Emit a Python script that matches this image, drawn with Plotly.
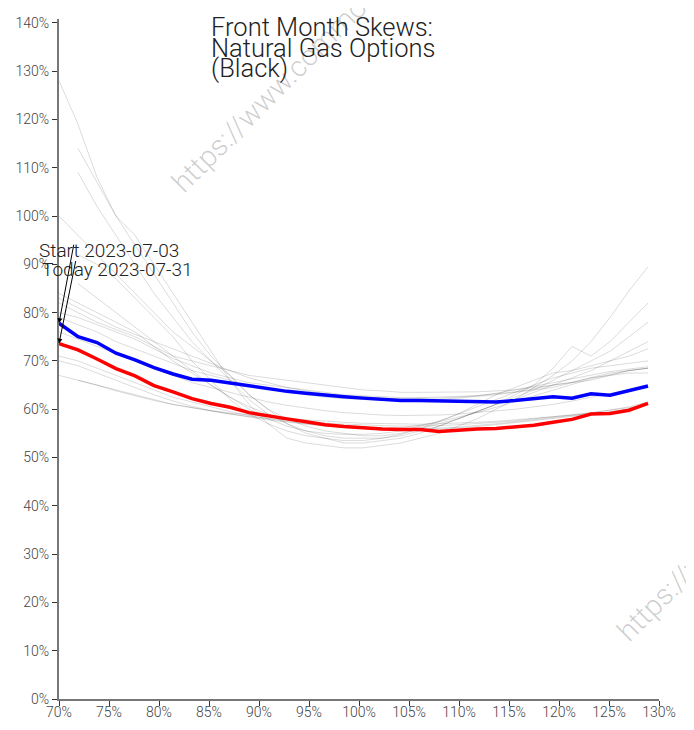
import plotly.graph_objects as go

# ---- data ----
moneyness = [0.700, 0.719, 0.738, 0.757, 0.776, 0.795, 0.814, 0.833, 0.852, 0.871,
             0.890, 0.909, 0.928, 0.947, 0.966, 0.985, 1.004, 1.023, 1.042, 1.061,
             1.080, 1.099, 1.118, 1.137, 1.156, 1.175, 1.194, 1.213, 1.232, 1.251,
             1.270, 1.289]

start_vol = [77.8, 75.0, 73.8, 71.6, 70.2, 68.6, 67.3, 66.2, 66.0, 65.4,
             64.8, 64.3, 63.7, 63.3, 62.9, 62.6, 62.3, 62.0, 61.8, 61.8,
             61.7, 61.6, 61.6, 61.5, 61.8, 62.2, 62.6, 62.3, 63.2, 62.9,
             63.8, 64.8]

today_vol = [73.6, 72.3, 70.4, 68.4, 66.9, 64.9, 63.6, 62.2, 61.2, 60.4,
             59.3, 58.6, 58.0, 57.4, 56.8, 56.4, 56.1, 55.9, 55.8, 55.8,
             55.4, 55.7, 55.9, 56.0, 56.3, 56.7, 57.3, 57.9, 59.0, 59.1,
             59.8, 61.2]

g01 = [128, 119, 108, 100, 96, 90, 84, 78, 72, 66, 61, 57, 54, 53, 52.5, 52, 52, 52.5, 53, 54,
       55, 56.5, 58, 60, 62, 64.5, 67, 70, 74, 79, 84.5, 89.5]
g02 = [None, 114, 107, 100, 94, 88, 82, 76, 71, 67, 63, 60, 57, 55, 54, 53, 53, 53.5, 54, 55,
       56.5, 58, 59.5, 61, 63, 65, 68.5, 73, 71, 74, 78, 82]
g03 = [None, 109, 102, 96, 90, 84, 79, 74, 70, 66, 62, 59, 57, 55.5, 54.5, 54, 54, 54, 54.5, 55.5,
       56.5, 58, 59.5, 61, 62.5, 64, 66, 68, 70, 72, 75, 78]
g04 = [100, 96, 92, 88, 84, 80, 76, 73, 70, 67, 63, 60, 58, 56.5, 55.5, 55, 54.5, 54.5, 55, 56,
       57, 58, 59.5, 61, 62, 63.5, 65, 66.5, 68, 70, 72, 74]
g05 = [82, 80, 78, 76.5, 75, 73, 71, 70, 69, 68, 67, 66.5, 66, 65.5, 65, 64.5, 64, 63.8, 63.5, 63.5,
       63.5, 63.5, 63.6, 63.8, 64, 64.5, 65, 65.5, 66, 67, 68, 68.5]
g06 = [80, 79, 77.5, 76, 74.5, 72.5, 70.5, 69, 67.5, 66.5, 65.5, 65, 64.5, 64, 63.5, 63, 62.8, 62.6, 62.4, 62.4,
       62.5, 62.6, 62.8, 63.2, 63.6, 64.2, 65, 65.6, 66.5, 67.5, 68, 68.5]
g07 = [79, 77.5, 76, 74, 72.5, 71, 69.5, 68, 67, 66, 65, 64.2, 63.5, 63, 62.5, 62.2, 62, 61.8, 61.8, 61.9,
       62, 62.3, 62.6, 63, 63.5, 64, 64.5, 65.5, 66.5, 67, 67.5, 67.5]
g08 = [76, 74.5, 73, 71.5, 70, 68.5, 67, 65.5, 64.5, 63.5, 62.5, 61.5, 60.8, 60.2, 59.7, 59.3, 59, 58.8, 58.7, 58.7,
       58.8, 59, 59.3, 59.6, 60, 60.5, 61, 61.7, 62.5, 63.3, 64, 64.5]
g09 = [71, 70, 68.5, 67, 65.5, 64, 62.5, 61.5, 60.5, 59.5, 58.7, 58, 57.5, 57, 56.7, 56.4, 56.2, 56, 56, 56,
       56.1, 56.3, 56.6, 57, 57.4, 57.8, 58.2, 58.7, 59.2, 59.8, 60.5, 61.5]
g10 = [70, 69, 67.5, 66, 64.5, 63, 61.7, 60.6, 59.7, 59, 58.4, 57.8, 57.3, 56.9, 56.5, 56.2, 56, 55.9, 55.8, 55.8,
       55.9, 56.1, 56.4, 56.8, 57.2, 57.6, 58, 58.5, 59, 59.5, 60, None]
g11 = [67, 66, 65, 64, 63, 62, 61, 60.3, 59.6, 59, 58.5, 58.1, 57.7, 57.4, 57.1, 56.9, 56.7, 56.6, 56.5, 56.5,
       56.6, 56.8, 57, 57.3, 57.6, 58, 58.4, 58.8, 59.3, 59.8, 60.3, 61]
g12 = [None, 66, 65, 63.8, 62.8, 61.8, 61, 60.3, 59.7, 59.2, 58.8, 58.4, 58.1, 57.8, 57.5, 57.3, 57.1, 57, 56.9, 56.9,
       57, 57.1, 57.3, 57.5, 57.8, 58.1, 58.4, 58.7, 59, 59.4, 59.8, None]
g13 = [None, 86, 83, 80, 77, 74, 71, 68, 65, 62.5, 60, 58, 56.5, 55.5, 55, 54.8, 54.8, 55, 55.5, 56.5,
       57.5, 59, 60.5, 62, 63.5, 65, 66.5, 67.5, 68.5, 69, 69.5, 70]
g14 = [84, 82, 80, 78, 76, 73, 70, 67.5, 65, 62.5, 60.5, 59, 58, 57.2, 56.6, 56.2, 56, 56, 56.2, 56.7,
       57.4, 58.3, 59.3, 60.4, 61.6, 62.8, 64, 65.2, 66.3, 67.2, 68, 68.5]
g15 = [None, 92, 90, 87, 83, 79, 75, 70, 66, 62, 59, 57, 55.5, 54.5, 54, 53.5, 53.5, 54, 54.8, 56,
       57.5, 59, 61, 63, 64.5, 66, 67.5, 68, 69, 70, 71, 72.5]
g16 = [83, 81, 79, 77, 75.5, 74, 72.5, 71, 69.5, 68, 66.5, 65.5, 64.5, 63.8, 63.2, 62.8, 62.5, 62.3, 62.2, 62.2,
       62.3, 62.5, 62.8, 63.3, 64, 64.8, 65.5, 66.3, 67, 67.8, 68.3, 68.8]

history = [g01, g02, g03, g04, g05, g06, g07, g08, g09, g10, g11, g12, g13, g14, g15, g16]

start_label = "Start 2023-07-03"
today_label = "Today 2023-07-31"
title_lines = ["Front Month Skews:", "Natural Gas Options", "(Black)"]
watermark = "https://www.commo"

x_ticks = [0.70, 0.75, 0.80, 0.85, 0.90, 0.95, 1.00, 1.05, 1.10, 1.15, 1.20, 1.25, 1.30]
y_ticks = [0.0, 0.1, 0.2, 0.3, 0.4, 0.5, 0.6, 0.7, 0.8, 0.9, 1.0, 1.1, 1.2, 1.3, 1.4]


def frac(vals):
    return [None if v is None else v / 100.0 for v in vals]


fig = go.Figure()
for h in history:
    fig.add_trace(go.Scatter(x=moneyness, y=frac(h), mode="lines",
                             line=dict(color="rgba(0,0,0,0.14)", width=1),
                             hoverinfo="skip", showlegend=False))
fig.add_trace(go.Scatter(x=moneyness, y=frac(start_vol), mode="lines",
                         line=dict(color="#0000ff", width=3.5), showlegend=False))
fig.add_trace(go.Scatter(x=moneyness, y=frac(today_vol), mode="lines",
                         line=dict(color="#ff0000", width=3.5), showlegend=False))

annotations = []
# watermarks
for (px, py) in [(0.35, 0.888), (1.092, 0.228)]:
    annotations.append(dict(xref="paper", yref="paper", x=px, y=py, text=watermark,
                            showarrow=False, textangle=-45,
                            font=dict(family="Roboto", size=29, color="rgba(0,0,0,0.2)", weight=300),
                            xanchor="center", yanchor="middle"))
# title lines
for t, py in zip(title_lines, [0.988, 0.958, 0.928]):
    annotations.append(dict(xref="paper", yref="paper", x=0.25, y=py, text=t, showarrow=False,
                            xanchor="left", yanchor="middle",
                            font=dict(family="Roboto", size=25.5, color="#222", weight=300)))
# arrows
annotations.append(dict(x=moneyness[0], y=start_vol[0] / 100, xref="x", yref="y", text="",
                        showarrow=True, arrowhead=2, arrowsize=1, arrowwidth=1, arrowcolor="#000",
                        ax=15, ay=-80))
annotations.append(dict(x=moneyness[0], y=today_vol[0] / 100, xref="x", yref="y", text="",
                        showarrow=True, arrowhead=2, arrowsize=1, arrowwidth=1, arrowcolor="#000",
                        ax=17, ay=-84))
annotations.append(dict(xref="paper", yref="paper", x=-0.037, y=0.660, text=start_label,
                        showarrow=False, xanchor="left", yanchor="middle",
                        font=dict(family="Roboto", size=19, color="#222", weight=300)))
annotations.append(dict(xref="paper", yref="paper", x=-0.032, y=0.631, text=today_label,
                        showarrow=False, xanchor="left", yanchor="middle",
                        font=dict(family="Roboto", size=19, color="#222", weight=300)))

axis_common = dict(showgrid=False, zeroline=False, showline=True, linecolor="#777", linewidth=2,
                   ticks="outside", ticklen=5, tickcolor="#333", tickwidth=1, automargin=False,
                   tickfont=dict(family="Roboto", size=14, color="#444", weight=300),
                   tickformat=".0%")

# the page body has an 8px margin: keep the figure inside the 694x730 window
fig.update_layout(
    width=678, height=714,
    margin=dict(l=51, r=27, t=11, b=23),
    paper_bgcolor="white", plot_bgcolor="white",
    xaxis=dict(range=[0.7, 1.3], tickvals=x_ticks, ticklabelstandoff=-6, **axis_common),
    yaxis=dict(range=[0, 1.408], tickvals=y_ticks, **axis_common),
    annotations=annotations,
    showlegend=False,
)

fig.write_html("out.html")
